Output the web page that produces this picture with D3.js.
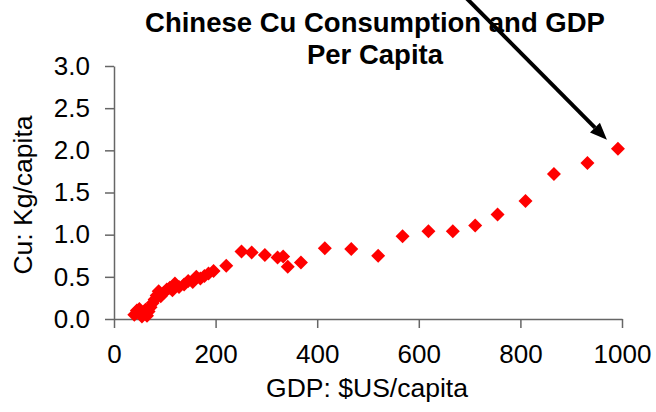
<!DOCTYPE html>
<html>
<head>
<meta charset="utf-8">
<script src="https://cdn.jsdelivr.net/npm/d3@7"></script>
<style>
  html, body { margin: 0; padding: 0; background: #fff; }
  svg { display: block; font-family: "Liberation Sans", Arial, sans-serif; }
</style>
</head>
<body>
<svg id="chart" width="656" height="412"></svg>
<script>
// GDP per capita (US$) and copper consumption per capita (kg)
const gdp = [40, 45, 50, 55, 58, 62, 65, 68, 72, 76, 80, 84, 88, 92, 98, 104, 110, 115, 120, 128,
             138, 146, 155, 162, 170, 178, 186, 196, 221, 251, 271, 297, 322, 333, 342, 368,
             415, 467, 520, 568, 619, 667, 711, 755, 810, 866, 932, 992];
const cu  = [0.05, 0.10, 0.12, 0.03, 0.08, 0.11, 0.04, 0.09, 0.14, 0.19, 0.23, 0.28, 0.33, 0.27, 0.31, 0.35, 0.37, 0.34, 0.42, 0.38,
             0.41, 0.45, 0.44, 0.50, 0.48, 0.51, 0.54, 0.57, 0.63, 0.80, 0.79, 0.76, 0.73, 0.74, 0.62, 0.67,
             0.84, 0.83, 0.75, 0.98, 1.04, 1.04, 1.11, 1.24, 1.40, 1.72, 1.85, 2.02];
const xTicks = [0, 200, 400, 600, 800, 1000];
const yTicks = [0, 0.5, 1.0, 1.5, 2.0, 2.5, 3.0];
const titleLines = ["Chinese Cu Consumption and GDP", "Per Capita"];

const svg = d3.select("#chart");
const plot = { left: 114, right: 622, top: 66, bottom: 319 };

const x = d3.scaleLinear().domain([0, 1000]).range([plot.left, plot.right]);
const y = d3.scaleLinear().domain([0, 3]).range([plot.bottom, plot.top]);

const axisColor = "#666";
const fontFamily = "'Liberation Sans', Arial, sans-serif";

// x axis
const gx = svg.append("g")
  .attr("transform", `translate(0,${plot.bottom})`)
  .call(d3.axisBottom(x).tickValues(xTicks).tickFormat(d3.format("d")).tickSizeInner(9).tickSizeOuter(0).tickPadding(17));
gx.select(".domain").attr("stroke", axisColor).attr("stroke-width", 1.5);
gx.selectAll(".tick line").attr("stroke", axisColor).attr("stroke-width", 1.5);
gx.selectAll(".tick text").attr("font-size", 26).attr("fill", "#000").attr("font-family", fontFamily);

// y axis
const gy = svg.append("g")
  .attr("transform", `translate(${plot.left},0)`)
  .call(d3.axisLeft(y).tickValues(yTicks).tickFormat(d3.format(".1f")).tickSizeInner(9).tickSizeOuter(0).tickPadding(15));
gy.select(".domain").attr("stroke", axisColor).attr("stroke-width", 1.5);
gy.selectAll(".tick line").attr("stroke", axisColor).attr("stroke-width", 1.5);
gy.selectAll(".tick text").attr("font-size", 26).attr("fill", "#000").attr("font-family", fontFamily);

// data markers (red diamonds)
const diamond = "M0,-7L7,0L0,7L-7,0Z";
svg.append("g").selectAll("path")
  .data(d3.zip(gdp, cu))
  .join("path")
  .attr("d", diamond)
  .attr("transform", d => `translate(${x(d[0])},${y(d[1])})`)
  .attr("fill", "#ff0000");

// title
svg.append("text")
  .attr("text-anchor", "middle")
  .attr("font-size", 27.5).attr("font-weight", "bold")
  .selectAll("tspan").data(titleLines).join("tspan")
  .attr("x", 375).attr("y", (d, i) => 32 + i * 32)
  .text(d => d);

// axis titles
svg.append("text")
  .attr("x", 367).attr("y", 397).attr("text-anchor", "middle")
  .attr("font-size", 26.5).text("GDP: $US/capita");
svg.append("text")
  .attr("transform", "translate(32,195) rotate(-90)")
  .attr("text-anchor", "middle")
  .attr("font-size", 26.5).text("Cu: Kg/capita");

// arrow pointing at the latest observation
const last = gdp.length - 1;
const tip = [x(gdp[last]) - 11, y(cu[last]) - 9];
const start = [tip[0] - 142, tip[1] - 143];
const ang = Math.atan2(tip[1] - start[1], tip[0] - start[0]);
const headLen = 17, headW = 7;
const base = [tip[0] - headLen * Math.cos(ang), tip[1] - headLen * Math.sin(ang)];
svg.append("line")
  .attr("x1", start[0]).attr("y1", start[1])
  .attr("x2", base[0]).attr("y2", base[1])
  .attr("stroke", "#000").attr("stroke-width", 4);
svg.append("path")
  .attr("d", `M${tip[0]},${tip[1]}` +
    `L${base[0] + headW * Math.sin(ang)},${base[1] - headW * Math.cos(ang)}` +
    `L${base[0] - headW * Math.sin(ang)},${base[1] + headW * Math.cos(ang)}Z`)
  .attr("fill", "#000");
</script>
</body>
</html>
